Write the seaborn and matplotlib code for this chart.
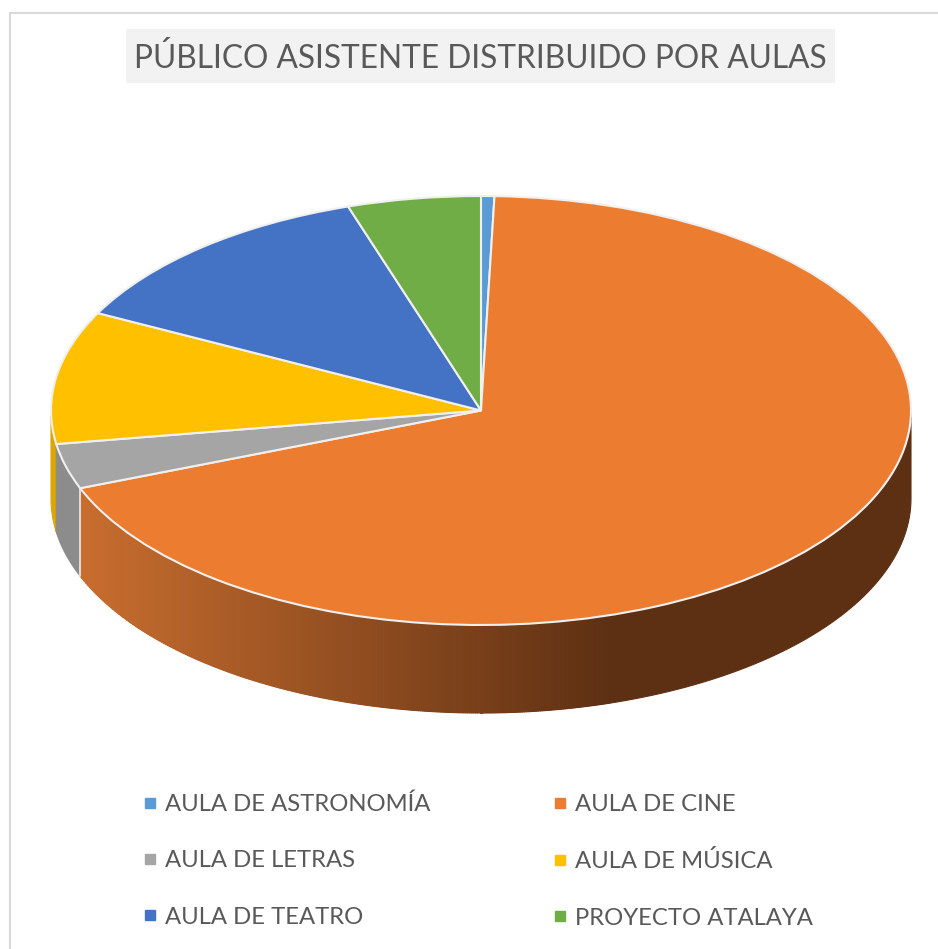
# -*- coding: utf-8 -*-
import numpy as np
import seaborn as sns
import matplotlib.pyplot as plt
from matplotlib.lines import Line2D
from matplotlib.patches import Rectangle

aulas = ["AULA DE ASTRONOMÍA", "AULA DE CINE", "AULA DE LETRAS",
         "AULA DE MÚSICA", "AULA DE TEATRO", "PROYECTO ATALAYA"]
publico = [0.5, 68.6, 3.4, 10.0, 12.5, 5.0]
colores = ["#5B9BD5", "#EC7C30", "#A5A5A5", "#FFC000", "#4472C4", "#70AD47"]
titulo = "PÚBLICO ASISTENTE DISTRIBUIDO POR AULAS"

sns.set_theme(style="white")
plt.rcParams['font.family'] = ['Lato', 'DejaVu Sans']

W, H = 938, 949
cx, cy, rx, ry = 481, 410.5, 430, 214.5   # elipse de la tarta en pixeles
fondo = 88 / ry                           # altura del lateral

fig = plt.figure(figsize=(W / 100, H / 100), dpi=100, facecolor="white")
ax = fig.add_axes([0, 0, 1, 1])


def lateral(a0, a1, color):
    # un trozo de pared entre dos angulos, en la mitad de abajo de la elipse
    t = np.radians(np.linspace(a0, a1, 60))
    x = np.cos(t)
    y = np.sin(t)
    ax.fill(np.r_[x, x[::-1]], np.r_[y, y[::-1] - fondo], color=color, lw=0.8,
            joinstyle="bevel", zorder=1)


# angulo donde acaba cada sector (medido como en la circunferencia, 180-360 es el frente)
fin = 450 - 3.6 * np.cumsum(publico)
fin_cine, fin_letras = fin[1], fin[2]

lateral(180, fin_letras, "#DDA600")
lateral(fin_letras, fin_cine, "#8C8C8C")

# el degradado del cine va por x: se oscurece hasta x=610 y luego queda plano
u_ini = np.cos(np.radians(fin_cine))
u_osc = (610 - cx) / rx
tiras = 260
bordes = np.linspace(u_ini, u_osc, tiras + 1)
ang = 360 - np.degrees(np.arccos(bordes))
for a0, a1, c in zip(ang[:-1], ang[1:], sns.blend_palette(["#C86D2E", "#5E3013"], tiras)):
    lateral(a0, a1, c)
lateral(ang[-1], 360, "#5E3013")

# separacion clara gris / cine
xs = np.cos(np.radians(fin_cine))
ys = np.sin(np.radians(fin_cine))
ax.plot([xs, xs], [ys, ys - fondo], color="#E6E6E6", lw=1.3, zorder=2)

ax.pie(publico, colors=colores, startangle=90, counterclock=False, radius=1,
       center=(0, 0), frame=False,
       wedgeprops=dict(edgecolor="#F0F0F0", linewidth=1.5, zorder=3))

ax.set_aspect("auto")
ax.set_xlim(-cx / rx, (W - cx) / rx)
ax.set_ylim((cy - H) / ry, cy / ry)
ax.axis("off")

# borde del grafico
gris = "#D9D9D9"
fig.add_artist(Line2D([10 / W, 10 / W], [0, 1 - 13 / H], color=gris, lw=1.5))
fig.add_artist(Line2D([10 / W, 1], [1 - 13 / H, 1 - 13 / H], color=gris, lw=1.5))

# titulo con su caja gris
fig.add_artist(Rectangle((126 / W, 1 - 83 / H), 709 / W, 54 / H, transform=fig.transFigure,
                         facecolor="#F2F2F2", edgecolor="none"))
fig.text(480.5 / W, 1 - 58 / H, titulo, ha="center", va="center", fontsize=22.8, color="#595959")

handles = [Line2D([], [], ls="", marker="s", ms=7.2, color=c) for c in colores]
# matplotlib rellena por columnas, se reordena para leer por filas
orden = [0, 2, 4, 1, 3, 5]
leg = ax.legend([handles[i] for i in orden], [aulas[i] for i in orden], ncols=2,
                loc="upper left", bbox_to_anchor=(121.5 / W, 1 - 772 / H), frameon=False,
                fontsize=17.2, labelcolor="#595959", labelspacing=1.48,
                columnspacing=5.13, handlelength=0.6, handletextpad=0.33)

fig.savefig("out.png", dpi=100)
